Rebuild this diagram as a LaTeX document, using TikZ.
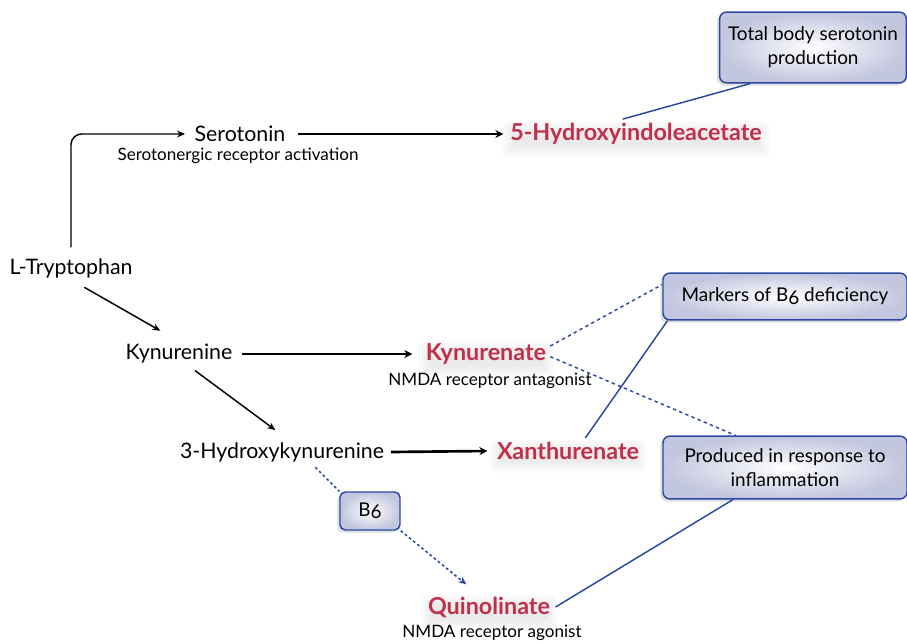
\documentclass[tikz,border=0pt]{standalone}
\usepackage{fontspec}
\setmainfont{Lato}
\usepackage{tikz}
\usetikzlibrary{arrows.meta,shadows,shadows.blur}
\definecolor{prodred}{HTML}{C0304A}
\definecolor{noteblue}{HTML}{2A48A0}
\definecolor{notefill}{HTML}{C2C6DE}
\tikzset{
  met/.style={inner sep=1pt,font=\fontsize{16}{18}\selectfont},
  sublbl/.style={inner sep=1pt,font=\fontsize{12.8}{14}\selectfont},
  prod/.style={inner sep=2pt,text=prodred,font=\bfseries\fontsize{17.5}{19}\selectfont,
    blur shadow={shadow xshift=0pt,shadow yshift=-4pt,shadow opacity=8,shadow blur steps=12,shadow blur radius=5pt}},
  note/.style={draw=noteblue,line width=1.1pt,rounded corners=5pt,align=center,
    inner color=white,outer color=notefill,
    drop shadow={shadow xshift=-2pt,shadow yshift=-2pt,opacity=0.25},
    font=\fontsize{14.2}{18}\selectfont},
  rxn/.style={-{Stealth[length=6pt,width=5pt]},line width=1.1pt},
  bigrxn/.style={-{Stealth[length=6pt,width=6pt]},line width=2pt},
  cofac/.style={dash pattern=on 2pt off 2pt,noteblue,line width=1.2pt},
  link/.style={noteblue,line width=1.1pt},
  hint/.style={dash pattern=on 2.5pt off 2.5pt,noteblue,line width=1.1pt},
}
\begin{document}
\begin{tikzpicture}[x=0.75pt,y=-0.75pt]
  \useasboundingbox (0,0) rectangle (907,643);
  % metabolites
  \node[met] (trp) at (71,268) {L-Tryptophan};
  \node[met] (ser) at (240,134) {Serotonin};
  \node[sublbl] (serlbl) at (238,156) {Serotonergic receptor activation};
  \node[met] (kyn) at (179,354) {Kynurenine};
  \node[met] (hk) at (282,452) {3-Hydroxykynurenine};
  % end products
  \node[prod] (hiaa) at (636,134) {5-Hydroxyindoleacetate};
  \node[prod] (kyna) at (486,354) {Kynurenate};
  \node[sublbl] (kynalbl) at (490,381) {NMDA receptor antagonist};
  \node[prod] (xa) at (568,451) {Xanthurenate};
  \node[prod] (quin) at (489,607) {Quinolinate};
  \node[sublbl] (quinlbl) at (492,633) {NMDA receptor agonist};
  % notes
  \node[note,minimum width=140pt,minimum height=53pt] (total) at (813,47.5) {Total body serotonin\\production};
  \node[note,minimum width=183pt,minimum height=35pt] (markers) at (785,296.5) {Markers of B{\raisebox{-0.25ex}{6}} deficiency};
  \node[note,minimum width=183pt,minimum height=47pt] (inflam) at (785,467.5) {Produced in response to\\inflammation};
  \node[note,minimum width=45pt,minimum height=28.5pt,rounded corners=4pt] (bsix) at (370,511) {B{\raisebox{-0.25ex}{6}}};

  % pathway
  \draw[rxn,rounded corners=8pt] ([yshift=7pt]trp.north) |- ([xshift=-6pt]ser.west);
  \draw[bigrxn] ([xshift=8pt]ser.east) -- ([xshift=-3pt]hiaa.west);
  \draw[rxn] ([xshift=10pt,yshift=-6pt]trp.south) -- ([xshift=-14pt,yshift=9pt]kyn.north);
  \draw[bigrxn] ([xshift=6pt]kyn.east) -- ([xshift=-8pt]kyna.west);
  \draw[rxn] ([xshift=12pt,yshift=-4pt]kyn.south) -- ([xshift=-5pt,yshift=8pt]hk.north);
  \draw[bigrxn] ([xshift=4pt]hk.east) -- ([xshift=-5pt]xa.west);
  \draw[cofac] ([xshift=25pt,yshift=-3pt]hk.south) -- (bsix.north west);
  \draw[cofac,-{Stealth[length=6pt,width=5pt]}] (bsix.south east) -- ([xshift=-17pt,yshift=7pt]quin.north);

  % notes links
  \draw[link] ([xshift=-10pt,yshift=1pt]hiaa.north) -- ([xshift=-47pt]total.south);
  \draw[hint] ([xshift=1pt,yshift=6pt]kyna.east) -- ([yshift=9pt]markers.west);
  \draw[hint] ([xshift=1pt,yshift=-2pt]kyna.east) -- ([xshift=-37pt]inflam.north);
  \draw[link] ([xshift=13pt,yshift=1pt]xa.north) -- ([xshift=4pt]markers.south west);
  \draw[link] ([xshift=2pt]quin.east) -- ([xshift=-39pt]inflam.south);
\end{tikzpicture}
\end{document}
